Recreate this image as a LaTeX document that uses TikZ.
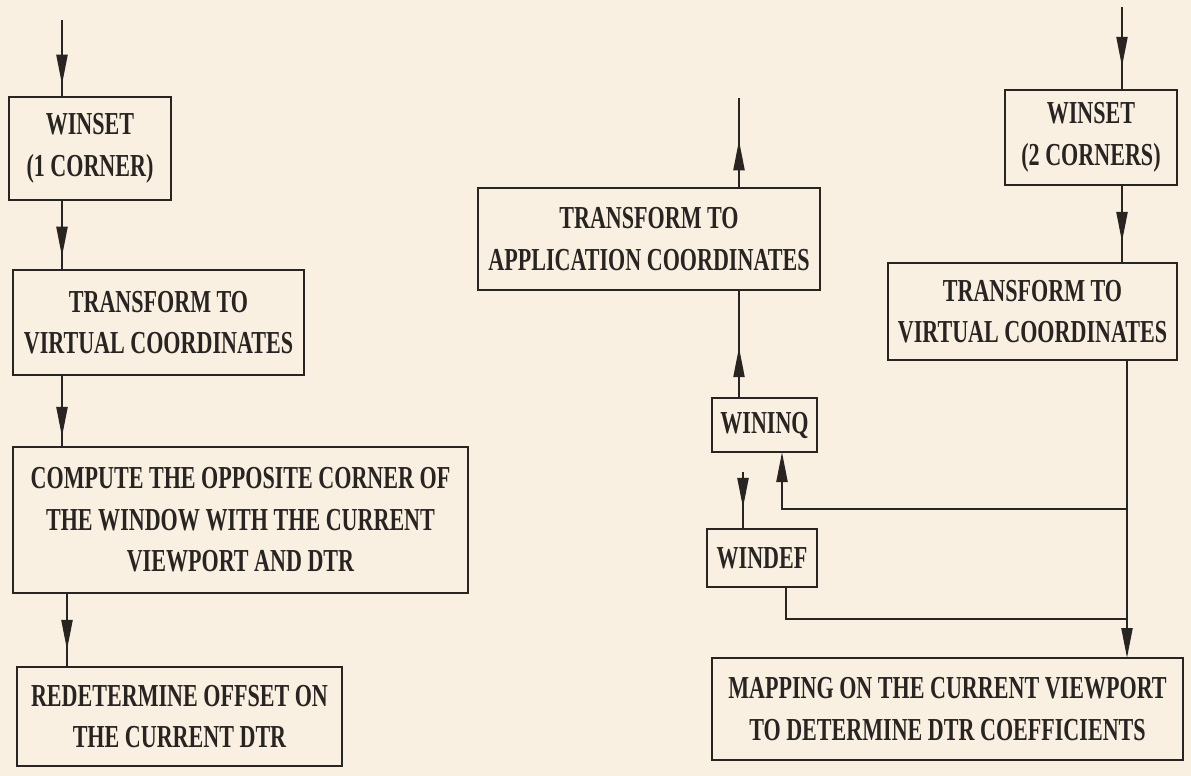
\documentclass[tikz,border=0pt]{standalone}
\usepackage{fontspec}
\newfontfamily\chartfont{Liberation Serif}[FakeStretch=0.69]
\usetikzlibrary{arrows.meta,decorations.markings}
\definecolor{paper}{RGB}{250,240,225}
\definecolor{ink}{RGB}{40,36,34}
\tikzset{
  stepbox/.style={draw=ink, line width=1.1pt, inner sep=0pt, outer sep=0pt, align=center, text=ink,
    font=\chartfont\bfseries\fontsize{16pt}{20.75pt}\selectfont},
  flow/.style={draw=ink, line width=1.1pt},
  midtip/.style={flow, postaction={decorate}, decoration={markings,
    mark=at position #1 with {\arrow[ink]{Triangle[length=15pt,width=5.5pt]}}}},
  endtip/.style={flow, -{Triangle[length=15pt,width=5.5pt]}}
}

\begin{document}
\begin{tikzpicture}[x=0.5pt,y=-0.5pt]

\fill[paper] (0,0) rectangle (1191,776);

% left column
\node[stepbox, minimum width=81pt, minimum height=51.5pt] (w1s) at (90,148.5) {WINSET\\(1 CORNER)};
\node[stepbox, minimum width=145.5pt, minimum height=52.5pt] (tv1) at (158.5,322.5) {TRANSFORM TO\\VIRTUAL COORDINATES};
\node[stepbox, minimum width=227.5pt, minimum height=73pt] (cmp) at (240.5,520) {COMPUTE THE OPPOSITE CORNER OF\\THE WINDOW WITH THE CURRENT\\VIEWPORT AND DTR};
\node[stepbox, minimum width=162.5pt, minimum height=49.5pt] (red) at (179.5,716.5) {REDETERMINE OFFSET ON\\THE CURRENT DTR};

% middle column
\node[stepbox, minimum width=171pt, minimum height=51pt] (tac) at (649,239) {TRANSFORM TO\\APPLICATION COORDINATES};
\node[stepbox, minimum width=52.5pt, minimum height=27pt] (wininq) at (764.5,425) {WININQ};
\node[stepbox, minimum width=55pt, minimum height=29pt] (windef) at (762,558) {WINDEF};

% right column
\node[stepbox, minimum width=86pt, minimum height=47.5pt] (w2s) at (1091,137.5) {WINSET\\(2 CORNERS)};
\node[stepbox, minimum width=144.5pt, minimum height=48.5pt] (tv2) at (1032.5,311.5) {TRANSFORM TO\\VIRTUAL COORDINATES};
\node[stepbox, minimum width=235.5pt, minimum height=51pt] (mp) at (947.5,709) {MAPPING ON THE CURRENT VIEWPORT\\TO DETERMINE DTR COEFFICIENTS};

\coordinate (in1) at (62,20);
\coordinate (c4) at (67,600);
\coordinate (out) at (739,98);
\coordinate (q) at (743,472);
\coordinate (in2) at (1122,7);
\coordinate (j1) at (1127,509);
\coordinate (j2) at (1127,619);
\coordinate (fb) at (782,509);
\coordinate (wd) at (786,619);

\draw[midtip=.84] (in1) -- (in1 |- w1s.north);
\draw[midtip=.81] (in1 |- w1s.south) -- (in1 |- tv1.north);
\draw[midtip=.86] (in1 |- tv1.south) -- (in1 |- cmp.north);
\draw[midtip=.77] (c4 |- cmp.south) -- (c4 |- red.north);

\draw[midtip=.53] (out |- tac.north) -- (out);
\draw[midtip=.47] (out |- wininq.north) -- (out |- tac.south);
\draw[midtip=.63] (q) -- (q |- windef.north);
\draw[endtip] (j1) -- (fb) -- (fb |- wininq.south);
\draw[flow] (wd |- windef.south) -- (wd) -- (j2);

\draw[midtip=.72] (in2) -- (in2 |- w2s.north);
\draw[midtip=.73] (in2 |- w2s.south) -- (in2 |- tv2.north);
\draw[endtip] (tv2.south -| j1) -- (j2 |- mp.north);

\end{tikzpicture}
\end{document}
